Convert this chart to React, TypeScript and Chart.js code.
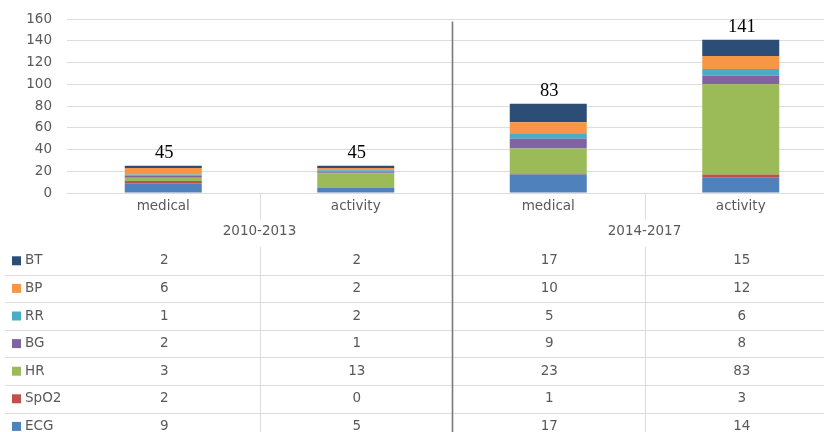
import React, { useEffect, useRef } from "react";
import { Chart, registerables } from "chart.js";

Chart.register(...registerables);

const categories = ["medical", "activity", "medical", "activity"];
const periods = ["2010-2013", "2014-2017"];
const totals = [45, 45, 83, 141];

const seriesNames = ["ECG", "SpO2", "HR", "BG", "RR", "BP", "BT"];
const ECG = [9, 5, 17, 14];
const SpO2 = [2, 0, 1, 3];
const HR = [3, 13, 23, 83];
const BG = [2, 1, 9, 8];
const RR = [1, 2, 5, 6];
const BP = [6, 2, 10, 12];
const BT = [2, 2, 17, 15];
const seriesValues = [ECG, SpO2, HR, BG, RR, BP, BT];
const seriesColors = ["#4f81bd", "#c0504d", "#9bbb59", "#8064a2", "#4bacc6", "#f79646", "#2c4d75"];

const yMin = 0;
const yMax = 160;
const yStep = 20;

const SANS = '"DejaVu Sans", sans-serif';
const GRAY = "#595959";
const LIGHT = "#dcdcdc";

const tablePlugin = {
  id: "tablePlugin",
  afterDraw(chart: any) {
    const { ctx, scales, chartArea, width, height } = chart;
    const x = scales.x;
    const y = scales.y;
    const centers = categories.map((_, i) => x.getPixelForValue(i));
    const half = (centers[1] - centers[0]) / 2;
    const bottom = chartArea.bottom;

    ctx.save();
    // totals above stacks
    ctx.font = '18.5px "Liberation Serif", serif';
    ctx.fillStyle = "#000";
    ctx.textAlign = "center";
    ctx.textBaseline = "alphabetic";
    totals.forEach((t, i) => {
      const sum = seriesValues.reduce((a, s) => a + s[i], 0);
      ctx.fillText(String(t), centers[i] + 1, y.getPixelForValue(sum) - 7.5);
    });

    // light separators between categories inside each period
    const tableTop = bottom + 54;
    const rowH = 27.6;
    ctx.strokeStyle = LIGHT;
    ctx.lineWidth = 1;
    [0, 2].forEach((i) => {
      const bx = Math.round(centers[i] + half) + 0.5;
      ctx.beginPath();
      ctx.moveTo(bx, bottom);
      ctx.lineTo(bx, bottom + 27);
      ctx.moveTo(bx, tableTop);
      ctx.lineTo(bx, height);
      ctx.stroke();
    });

    // horizontal table lines
    for (let r = 1; r < seriesNames.length; r++) {
      const ly = Math.round(tableTop + r * rowH) + 0.5;
      ctx.beginPath();
      ctx.moveTo(5, ly);
      ctx.lineTo(width, ly);
      ctx.stroke();
    }

    // dark separator between periods
    const dx = centers[1] + half + 0.5;
    ctx.strokeStyle = "#7a7a7a";
    ctx.lineWidth = 1.6;
    ctx.beginPath();
    ctx.moveTo(dx, chartArea.top + 2.5);
    ctx.lineTo(dx, height);
    ctx.stroke();

    // period labels
    ctx.font = "13.5px " + SANS;
    ctx.fillStyle = GRAY;
    ctx.textAlign = "center";
    ctx.textBaseline = "middle";
    periods.forEach((p, k) => {
      ctx.fillText(p, centers[k * 2] + half, bottom + 38);
    });

    // table rows (reverse order: top row is last series)
    const n = seriesNames.length;
    for (let r = 0; r < n; r++) {
      const si = n - 1 - r;
      const cy = tableTop + r * rowH + rowH / 2;
      ctx.fillStyle = seriesColors[si];
      ctx.fillRect(12, cy - 4.5, 9, 9);
      ctx.fillStyle = GRAY;
      ctx.textAlign = "left";
      ctx.fillText(seriesNames[si], 25, cy);
      ctx.textAlign = "center";
      seriesValues[si].forEach((v, i) => {
        ctx.fillText(String(v), centers[i] + 1, cy);
      });
    }
    ctx.restore();
  },
};

export default function App() {
  const ref = useRef<HTMLCanvasElement | null>(null);

  useEffect(() => {
    if (!ref.current) return;
    const chart = new Chart(ref.current, {
      type: "bar",
      data: {
        labels: categories,
        datasets: seriesNames.map((name, i) => ({
          label: name,
          data: seriesValues[i],
          backgroundColor: seriesColors[i],
          borderWidth: 0,
          categoryPercentage: 1,
          barPercentage: 0.4,
        })),
      },
      options: {
        animation: false,
        responsive: false,
        maintainAspectRatio: false,
        layout: { padding: { left: 0, right: 3, top: 19, bottom: 0 } },
        plugins: {
          legend: { display: false },
          tooltip: { enabled: false },
          title: { display: false },
        },
        scales: {
          x: {
            stacked: true,
            grid: { display: false, drawTicks: false },
            border: { display: false },
            ticks: {
              color: GRAY,
              font: { family: SANS, size: 13.5 },
              padding: 5,
              maxRotation: 0,
              autoSkip: false,
            },
            afterFit: (scale: any) => {
              scale.height = 239;
              scale.paddingLeft = 0;
              scale.paddingRight = 0;
            },
          },
          y: {
            stacked: true,
            min: yMin,
            max: yMax,
            ticks: {
              stepSize: yStep,
              color: GRAY,
              font: { family: SANS, size: 13.5 },
              padding: 15,
            },
            grid: { color: LIGHT, drawTicks: false },
            border: { display: false },
            afterFit: (scale: any) => {
              scale.width = 67;
              scale.paddingTop = 0;
              scale.paddingBottom = 0;
            },
          },
        },
      },
      plugins: [tablePlugin],
    });
    return () => chart.destroy();
  }, []);

  return (
    <div
      style={{
        position: "fixed",
        left: 0,
        top: 0,
        width: 824,
        height: 432,
        overflow: "hidden",
        background: "#fff",
      }}
    >
      <canvas ref={ref} width={840} height={432} style={{ display: "block" }} />
    </div>
  );
}
